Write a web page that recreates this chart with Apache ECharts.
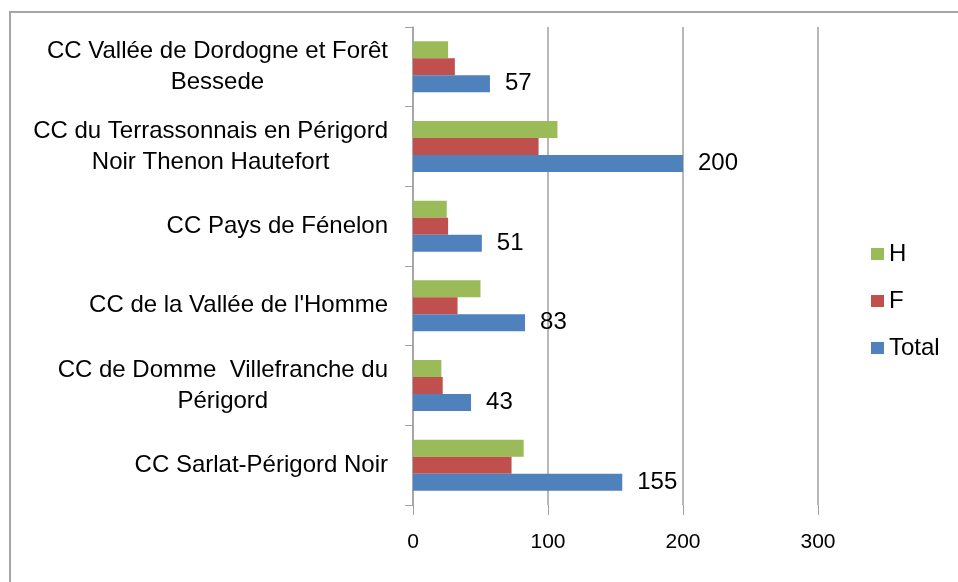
<!DOCTYPE html>
<html>
<head>
<meta charset="utf-8">
<script src="https://cdn.jsdelivr.net/npm/echarts@6/dist/echarts.min.js"></script>
<style>
  html, body { margin: 0; padding: 0; background: #fff; }
  #chart { width: 958px; height: 582px; }
</style>
</head>
<body>
<div id="chart"></div>
<script>
// categories listed bottom -> top (category axis starts at the bottom)
const categories = [
    'CC Sarlat-Périgord Noir',
    'CC de Domme  Villefranche du\nPérigord',
    "CC de la Vallée de l'Homme",
    'CC Pays de Fénelon',
    'CC du Terrassonnais en Périgord\nNoir Thenon Hautefort',
    'CC Vallée de Dordogne et Forêt\nBessede'
]
const hommes = [82, 21, 50, 25, 107, 26]
const femmes = [73, 22, 33, 26, 93, 31]
const total = [155, 43, 83, 51, 200, 57]
const xTicks = [0, 100, 200, 300]

const font = 'Liberation Sans'
const chart = echarts.init(document.getElementById('chart'))

const option = {
    backgroundColor: '#fff',
    animation: false,
    textStyle: { fontFamily: font, color: '#000' },
    graphic: [
        {
            type: 'rect',
            shape: { x: 10, y: 12, width: 1000, height: 700 },
            style: { fill: 'none', stroke: '#a6a6a6', lineWidth: 2 }
        }
    ],
    legend: {
        orient: 'vertical',
        left: 866,
        top: 237,
        itemWidth: 13,
        itemHeight: 12,
        itemGap: 23,
        icon: 'rect',
        data: ['H', 'F', 'Total'],
        textStyle: { fontFamily: font, fontSize: 24, color: '#000' }
    },
    grid: {
        left: 413,
        top: 27,
        width: 405,
        height: 478
    },
    xAxis: {
        type: 'value',
        min: xTicks[0],
        max: xTicks[xTicks.length - 1],
        interval: 100,
        axisLine: { show: false },
        axisTick: { show: true, length: 10, lineStyle: { color: '#a0a0a0' } },
        splitLine: { show: true, lineStyle: { color: '#a0a0a0', width: 1.5 } },
        axisLabel: { margin: 27, fontSize: 21, color: '#000', fontFamily: font }
    },
    yAxis: {
        type: 'category',
        data: categories,
        axisLine: { show: true, lineStyle: { color: '#a0a0a0', width: 1.5 } },
        axisTick: { show: true, length: 8, lineStyle: { color: '#a0a0a0' } },
        axisLabel: {
            margin: 25,
            fontSize: 24,
            color: '#000',
            formatter: v => v.split('\n').map(l => '{c|' + l + '}').join('\n'),
            rich: {
                c: { align: 'center', fontSize: 24, lineHeight: 31, fontFamily: font, color: '#000' }
            }
        }
    },
    series: [
        {
            name: 'H',
            type: 'bar',
            data: hommes,
            barWidth: 17,
            barGap: '0%',
            itemStyle: { color: '#9BBB59' }
        },
        {
            name: 'F',
            type: 'bar',
            data: femmes,
            barWidth: 17,
            barGap: '0%',
            itemStyle: { color: '#C0504D' }
        },
        {
            name: 'Total',
            type: 'bar',
            data: total,
            barWidth: 17,
            barGap: '0%',
            itemStyle: { color: '#4F81BD' },
            label: {
                show: true,
                position: 'right',
                distance: 15,
                fontSize: 24,
                color: '#000',
                fontFamily: font
            }
        }
    ]
}

chart.setOption(option)
</script>
</body>
</html>
